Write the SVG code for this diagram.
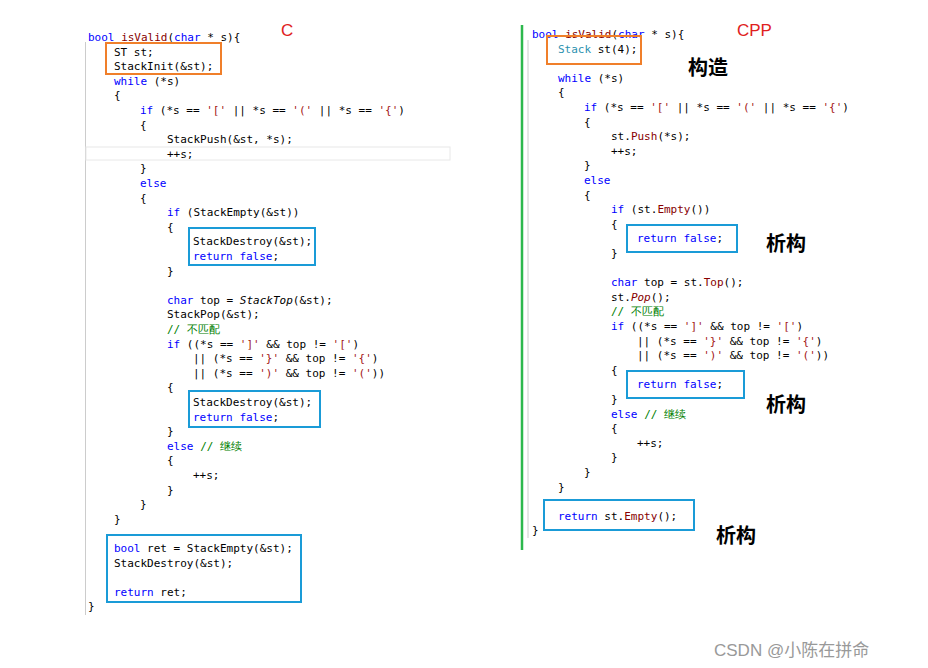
<svg xmlns="http://www.w3.org/2000/svg" width="928" height="668" viewBox="0 0 928 668">
<style>
text{font-family:"DejaVu Sans Mono","Liberation Mono",monospace;font-size:11px;fill:#000;white-space:pre}
.k{fill:#0000ff}.s{fill:#a31515}.c{fill:#008000}.f{fill:#880000}.t{fill:#2b91af}
.ob{fill:none;stroke:#f07f2a;stroke-width:2}
.bb{fill:none;stroke:#1a9bd7;stroke-width:2}
.lab{font-family:"Liberation Sans",sans-serif;font-size:17px;fill:#e02020}
.zh{font-family:"Noto Sans CJK SC",sans-serif;font-size:20px;font-weight:bold;fill:#000}
</style>
<rect width="928" height="668" fill="#fff"/>
<g id="left">
<line x1="85.5" y1="42" x2="85.5" y2="615" stroke="#ccc"/>
<rect x="86" y="147" width="364" height="13" fill="none" stroke="#e8e8e8"/>
<text x="88" y="41"><tspan class="k">bool</tspan> <tspan class="f">isValid</tspan>(<tspan class="k">char</tspan> * s){</text>
<text x="114" y="55.6">ST st;</text>
<text x="114" y="70.2">StackInit(&amp;st);</text>
<text x="114" y="84.8"><tspan class="k">while</tspan> (*s)</text>
<text x="114" y="99.4">{</text>
<text x="140" y="114"><tspan class="k">if</tspan> (*s == <tspan class="s">'['</tspan> || *s == <tspan class="s">'('</tspan> || *s == <tspan class="s">'{'</tspan>)</text>
<text x="140" y="128.6">{</text>
<text x="167" y="143.2">StackPush(&amp;st, *s);</text>
<text x="167" y="157.8">++s;</text>
<text x="140" y="172.4">}</text>
<text x="140" y="187"><tspan class="k">else</tspan></text>
<text x="140" y="201.6">{</text>
<text x="167" y="216.2"><tspan class="k">if</tspan> (StackEmpty(&amp;st))</text>
<text x="167" y="230.8">{</text>
<text x="193" y="245.4">StackDestroy(&amp;st);</text>
<text x="193" y="260"><tspan class="k">return</tspan> <tspan class="k">false</tspan>;</text>
<text x="167" y="274.6">}</text>
<text x="167" y="303.8"><tspan class="k">char</tspan> top = <tspan font-style="italic">StackTop</tspan>(&amp;st);</text>
<text x="167" y="318.4">StackPop(&amp;st);</text>
<text x="167" y="333" class="c">// 不匹配</text>
<text x="167" y="347.6"><tspan class="k">if</tspan> ((*s == <tspan class="s">']'</tspan> &amp;&amp; top != <tspan class="s">'['</tspan>)</text>
<text x="193" y="362.2">|| (*s == <tspan class="s">'}'</tspan> &amp;&amp; top != <tspan class="s">'{'</tspan>)</text>
<text x="193" y="376.8">|| (*s == <tspan class="s">')'</tspan> &amp;&amp; top != <tspan class="s">'('</tspan>))</text>
<text x="167" y="391.4">{</text>
<text x="193" y="406">StackDestroy(&amp;st);</text>
<text x="193" y="420.6"><tspan class="k">return</tspan> <tspan class="k">false</tspan>;</text>
<text x="167" y="435.2">}</text>
<text x="167" y="449.8"><tspan class="k">else</tspan> <tspan class="c">// 继续</tspan></text>
<text x="167" y="464.4">{</text>
<text x="193" y="479">++s;</text>
<text x="167" y="493.6">}</text>
<text x="140" y="508.2">}</text>
<text x="114" y="522.8">}</text>
<text x="114" y="552"><tspan class="k">bool</tspan> ret = StackEmpty(&amp;st);</text>
<text x="114" y="566.6">StackDestroy(&amp;st);</text>
<text x="114" y="595.8"><tspan class="k">return</tspan> ret;</text>
<text x="88" y="610.4">}</text>
<rect class="ob" x="106" y="43" width="115" height="31"/>
<rect class="bb" x="189" y="228" width="126" height="37"/>
<rect class="bb" x="189" y="391" width="131" height="36"/>
<rect class="bb" x="107" y="535" width="194" height="67"/>
<text class="lab" x="281" y="36">C</text>
</g>
<g id="right">
<line x1="522" y1="25" x2="522" y2="550" stroke="#2db84d" stroke-width="2.5"/>
<line x1="528" y1="40" x2="528" y2="538" stroke="#ccc"/>
<text x="532" y="38"><tspan class="k">bool</tspan> <tspan class="f">isValid</tspan>(<tspan class="k">char</tspan> * s){</text>
<text x="558" y="52.6"><tspan class="t">Stack</tspan> st(4);</text>
<text x="558" y="81.8"><tspan class="k">while</tspan> (*s)</text>
<text x="558" y="96.4">{</text>
<text x="584" y="111"><tspan class="k">if</tspan> (*s == <tspan class="s">'['</tspan> || *s == <tspan class="s">'('</tspan> || *s == <tspan class="s">'{'</tspan>)</text>
<text x="584" y="125.6">{</text>
<text x="611" y="140.2">st.<tspan class="f">Push</tspan>(*s);</text>
<text x="611" y="154.8">++s;</text>
<text x="584" y="169.4">}</text>
<text x="584" y="184"><tspan class="k">else</tspan></text>
<text x="584" y="198.6">{</text>
<text x="611" y="213.2"><tspan class="k">if</tspan> (st.<tspan class="f">Empty</tspan>())</text>
<text x="611" y="227.8">{</text>
<text x="637" y="242.4"><tspan class="k">return</tspan> <tspan class="k">false</tspan>;</text>
<text x="611" y="257">}</text>
<text x="611" y="286.2"><tspan class="k">char</tspan> top = st.<tspan class="f">Top</tspan>();</text>
<text x="611" y="300.8">st.<tspan class="f" font-style="italic">Pop</tspan>();</text>
<text x="611" y="315.4" class="c">// 不匹配</text>
<text x="611" y="330"><tspan class="k">if</tspan> ((*s == <tspan class="s">']'</tspan> &amp;&amp; top != <tspan class="s">'['</tspan>)</text>
<text x="637" y="344.6">|| (*s == <tspan class="s">'}'</tspan> &amp;&amp; top != <tspan class="s">'{'</tspan>)</text>
<text x="637" y="359.2">|| (*s == <tspan class="s">')'</tspan> &amp;&amp; top != <tspan class="s">'('</tspan>))</text>
<text x="611" y="373.8">{</text>
<text x="637" y="388.4"><tspan class="k">return</tspan> <tspan class="k">false</tspan>;</text>
<text x="611" y="403">}</text>
<text x="611" y="417.6"><tspan class="k">else</tspan> <tspan class="c">// 继续</tspan></text>
<text x="611" y="432.2">{</text>
<text x="637" y="446.8">++s;</text>
<text x="611" y="461.4">}</text>
<text x="584" y="476">}</text>
<text x="558" y="490.6">}</text>
<text x="558" y="519.8"><tspan class="k">return</tspan> st.<tspan class="f">Empty</tspan>();</text>
<text x="532" y="534.4">}</text>
<rect class="ob" x="547" y="36" width="94" height="28"/>
<rect class="bb" x="627" y="225" width="110" height="27"/>
<rect class="bb" x="627" y="371" width="117" height="27"/>
<rect class="bb" x="544" y="500" width="150" height="30"/>
<text class="lab" x="737" y="36">CPP</text>
<text class="zh" x="688" y="75">构造</text>
<text class="zh" x="766" y="251">析构</text>
<text class="zh" x="766" y="412">析构</text>
<text class="zh" x="716" y="543">析构</text>
</g>
<text x="714" y="656" style="font-family:'Liberation Sans','Noto Sans CJK SC',sans-serif;font-size:17px;fill:#999">CSDN @小陈在拼命</text>
</svg>
